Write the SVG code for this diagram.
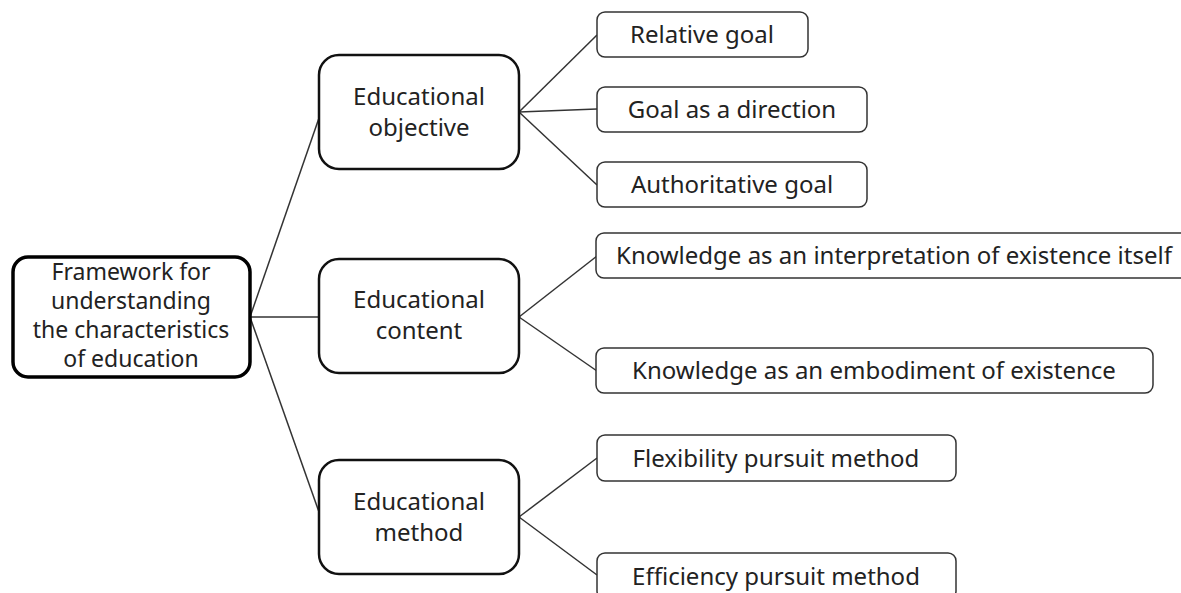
<svg xmlns="http://www.w3.org/2000/svg" width="1181" height="593" viewBox="0 0 1181 593">
  <style>
    text { font-family: "Noto Sans", "Open Sans", "Liberation Sans", sans-serif; font-size: 24px; fill: #222; text-anchor: middle; }
    .root { fill: #fff; stroke: #000; stroke-width: 3.5; }
    .root-text { font-size: 23px; }
    .mid { fill: #fff; stroke: #111; stroke-width: 2.5; }
    .leaf { fill: #fff; stroke: #333; stroke-width: 1.5; }
    .conn line { stroke: #333; stroke-width: 1.5; }
  </style>
  <rect width="1181" height="593" fill="#fff"/>

  <g class="conn" id="connectors">
    <line x1="250" y1="317" x2="319" y2="118"/>
    <line x1="250" y1="317" x2="319" y2="317"/>
    <line x1="250" y1="317" x2="319" y2="512"/>
    <line x1="519" y1="112" x2="597" y2="35"/>
    <line x1="519" y1="112" x2="597" y2="109"/>
    <line x1="519" y1="112" x2="597" y2="185"/>
    <line x1="519" y1="317" x2="597" y2="256"/>
    <line x1="519" y1="317" x2="597" y2="371"/>
    <line x1="519" y1="517" x2="597" y2="458"/>
    <line x1="519" y1="517" x2="597" y2="575"/>
  </g>

  <g id="root">
    <rect class="root" x="13" y="257" width="237" height="120" rx="15"/>
    <text class="root-text" x="131" y="280">Framework for</text>
    <text class="root-text" x="131" y="309">understanding</text>
    <text class="root-text" x="131" y="338">the characteristics</text>
    <text class="root-text" x="131" y="367">of education</text>
  </g>

  <g id="objective">
    <rect class="mid" x="319" y="55" width="200" height="114" rx="20"/>
    <text x="419" y="105">Educational</text>
    <text x="419" y="136">objective</text>
  </g>
  <g id="content">
    <rect class="mid" x="319" y="259" width="200" height="114" rx="20"/>
    <text x="419" y="308">Educational</text>
    <text x="419" y="339">content</text>
  </g>
  <g id="method">
    <rect class="mid" x="319" y="460" width="200" height="114" rx="20"/>
    <text x="419" y="510">Educational</text>
    <text x="419" y="541">method</text>
  </g>

  <g id="relative-goal">
    <rect class="leaf" x="597" y="12" width="211" height="45" rx="8"/>
    <text x="702" y="43">Relative goal</text>
  </g>
  <g id="goal-direction">
    <rect class="leaf" x="597" y="87" width="270" height="45" rx="8"/>
    <text x="732" y="118">Goal as a direction</text>
  </g>
  <g id="authoritative-goal">
    <rect class="leaf" x="597" y="162" width="270" height="45" rx="8"/>
    <text x="732" y="193">Authoritative goal</text>
  </g>
  <g id="knowledge-interpretation">
    <rect class="leaf" x="596" y="233" width="600" height="45" rx="8"/>
    <text x="894" y="264">Knowledge as an interpretation of existence itself</text>
  </g>
  <g id="knowledge-embodiment">
    <rect class="leaf" x="596" y="348" width="557" height="45" rx="8"/>
    <text x="874" y="379">Knowledge as an embodiment of existence</text>
  </g>
  <g id="flexibility">
    <rect class="leaf" x="597" y="435" width="359" height="46" rx="8"/>
    <text x="776" y="467">Flexibility pursuit method</text>
  </g>
  <g id="efficiency">
    <rect class="leaf" x="597" y="553" width="359" height="46" rx="8"/>
    <text x="776" y="585">Efficiency pursuit method</text>
  </g>
</svg>
